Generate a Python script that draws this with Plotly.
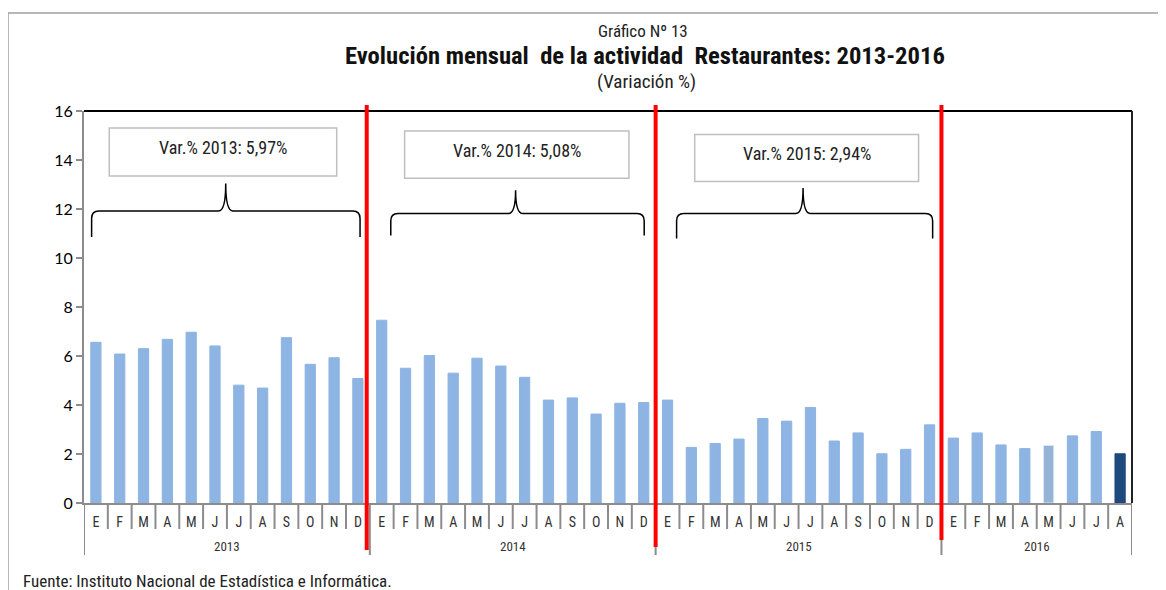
import plotly.graph_objects as go

years = ["2013", "2014", "2015", "2016"]
months_per_year = [12, 12, 12, 8]
month_labels = ["E", "F", "M", "A", "M", "J", "J", "A", "S", "O", "N", "D"]

values_2013 = [6.56, 6.08, 6.30, 6.68, 6.97, 6.41, 4.81, 4.69, 6.75, 5.66, 5.93, 5.08]
values_2014 = [7.46, 5.50, 6.02, 5.30, 5.91, 5.59, 5.13, 4.20, 4.29, 3.63, 4.07, 4.10]
values_2015 = [4.20, 2.27, 2.43, 2.61, 3.45, 3.34, 3.90, 2.53, 2.86, 2.01, 2.19, 3.19]
values_2016 = [2.65, 2.86, 2.37, 2.22, 2.35, 2.74, 2.92, 2.01]

annual_labels = ["Var.% 2013: 5,97%", "Var.% 2014: 5,08%", "Var.% 2015: 2,94%"]

values = values_2013 + values_2014 + values_2015 + values_2016
ticktext = []
for n in months_per_year:
    ticktext += month_labels[:n]
xs = list(range(len(values)))

BASE = "#8DB4E2"
colors = [BASE] * len(values)
line_colors = [BASE] * len(values)
colors[-4] = "#95B3D7"
line_colors[-4] = "#DCE6F2"
colors[-1] = "#1F497D"
line_colors[-1] = "#1F497D"

NARROW = "Roboto Condensed, Liberation Sans Narrow, Arial Narrow, sans-serif"
GRAY = "#8C8C8C"

# Page geometry (browser adds an 8px body margin, so the figure is offset by 8px)
OFF = 8
W, H = 1166 - OFF, 590 - OFF
PL, PR, PT, PB = 84, 1132, 111, 503   # plot area in window pixels
ml, mt = PL - OFF, PT - OFF
pw, ph = PR - PL, PB - PT
mr, mb = W - ml - pw, H - mt - ph


def px(x):
    return (x - PL) / pw


def py(y):
    return (PB - y) / ph


fig = go.Figure()
fig.add_trace(go.Bar(
    x=xs, y=values, width=0.43,
    marker=dict(color=colors, line=dict(color=line_colors, width=1)),
    hoverinfo="y", showlegend=False,
))

shapes = []
annotations = []

# Plot area black top/right border
shapes.append(dict(type="line", xref="paper", yref="paper", x0=0, x1=1, y0=1, y1=1,
                   line=dict(color="black", width=2)))
shapes.append(dict(type="line", xref="paper", yref="paper", x0=1, x1=1, y0=0, y1=1,
                   line=dict(color="#222222", width=2)))

# Category dividers under the x axis
boundaries = [-0.5]
acc = 0
for n in months_per_year:
    acc += n
    boundaries.append(acc - 0.5)
for i in range(len(values) + 1):
    b = i - 0.5
    long = b in boundaries
    shapes.append(dict(type="line", xref="x", yref="paper", x0=b, x1=b,
                       y0=0, y1=py(555 if long else 529),
                       line=dict(color=GRAY, width=2)))

# Year labels
start = 0
for yr, n in zip(years, months_per_year):
    annotations.append(dict(x=start + (n - 1) / 2, y=py(546.5), xref="x", yref="paper",
                            text=yr, showarrow=False, yanchor="middle",
                            font=dict(family=NARROW, size=13, color="#333333")))
    start += n

# Red separators
red_bottoms = [550, 547, 540]
for b, yb, off in zip(boundaries[1:4], red_bottoms, [-0.13, 0.0, 0.0]):
    shapes.append(dict(type="line", xref="x", yref="paper", x0=b + off, x1=b + off,
                       y0=py(105), y1=py(yb), line=dict(color="#FF0000", width=4)))

# Annual variation boxes and braces (x in category units, y in data units)
boxes = [(0.56, 10.11, 15.31, 13.35), (12.96, 22.38, 15.18, 13.26), (25.14, 34.54, 15.04, 13.12)]
braces = [(-0.18, 11.09, 5.45, 11.92, 13.04, 10.86),
          (12.38, 23.02, 17.62, 11.82, 12.77, 10.92),
          (24.38, 35.13, 29.69, 11.82, 12.86, 10.80)]
for (x0, x1, y0, y1), lab in zip(boxes, annual_labels):
    shapes.append(dict(type="rect", xref="x", yref="y", x0=x0, x1=x1, y0=y0, y1=y1,
                       line=dict(color="#BFBFBF", width=1.5), fillcolor="white"))
    annotations.append(dict(x=(x0 + x1) / 2, y=y0 - 0.78, xref="x", yref="y", text=lab,
                            showarrow=False, yanchor="middle",
                            font=dict(family=NARROW, size=18, color="#222222")))
for (xl, xr, xc, yh, yt, yb) in braces:
    r = 0.3
    ry = 0.3
    path = (f"M {xl},{yb} L {xl},{yh - ry} Q {xl},{yh} {xl + r},{yh} "
            f"L {xc - r},{yh} Q {xc},{yh} {xc},{yt} "
            f"Q {xc},{yh} {xc + r},{yh} L {xr - r},{yh} Q {xr},{yh} {xr},{yh - ry} L {xr},{yb}")
    shapes.append(dict(type="path", xref="x", yref="y", path=path,
                       line=dict(color="black", width=1.5)))

# Outer frame
shapes.append(dict(type="rect", xref="paper", yref="paper", x0=px(8), x1=px(1180),
                   y0=py(610), y1=py(13), line=dict(color="#A0A0A0", width=1.5)))

annotations.append(dict(x=px(643), y=py(31), xref="paper", yref="paper", text="Gráfico Nº 13",
                        showarrow=False, yanchor="middle",
                        font=dict(family=NARROW, size=17, color="#222222")))
annotations.append(dict(x=px(645), y=py(56), xref="paper", yref="paper",
                        text="<b>Evolución mensual  de la actividad  Restaurantes: 2013-2016</b>",
                        showarrow=False, yanchor="middle",
                        font=dict(family=NARROW, size=24.6, color="#111111")))
annotations.append(dict(x=px(646), y=py(82), xref="paper", yref="paper", text="(Variación %)",
                        showarrow=False, yanchor="middle",
                        font=dict(family=NARROW, size=19, color="#222222")))
annotations.append(dict(x=px(21), y=py(581), xref="paper", yref="paper",
                        text="Fuente: Instituto Nacional de Estadística e Informática.",
                        showarrow=False, xanchor="left", yanchor="middle",
                        font=dict(family=NARROW, size=17, color="#222222")))

fig.update_layout(
    width=W, height=H,
    margin=dict(l=ml, r=mr, t=mt, b=mb, pad=0),
    paper_bgcolor="white", plot_bgcolor="white",
    shapes=shapes, annotations=annotations,
    xaxis=dict(range=[-0.5, len(values) - 0.5], tickvals=xs, ticktext=ticktext,
               showgrid=False, zeroline=False, showline=True, linecolor=GRAY, linewidth=2,
               ticks="", ticklabelstandoff=5,
               tickfont=dict(family=NARROW, size=14, color="#333333")),
    yaxis=dict(range=[0, 16], dtick=2, showgrid=False, zeroline=False, showline=True,
               linecolor=GRAY, linewidth=2, ticks="outside", ticklen=6, tickcolor=GRAY,
               tickwidth=2, tickfont=dict(family="Lato, Carlito, sans-serif", size=16, color="black")),
)

fig.write_html("out.html")
